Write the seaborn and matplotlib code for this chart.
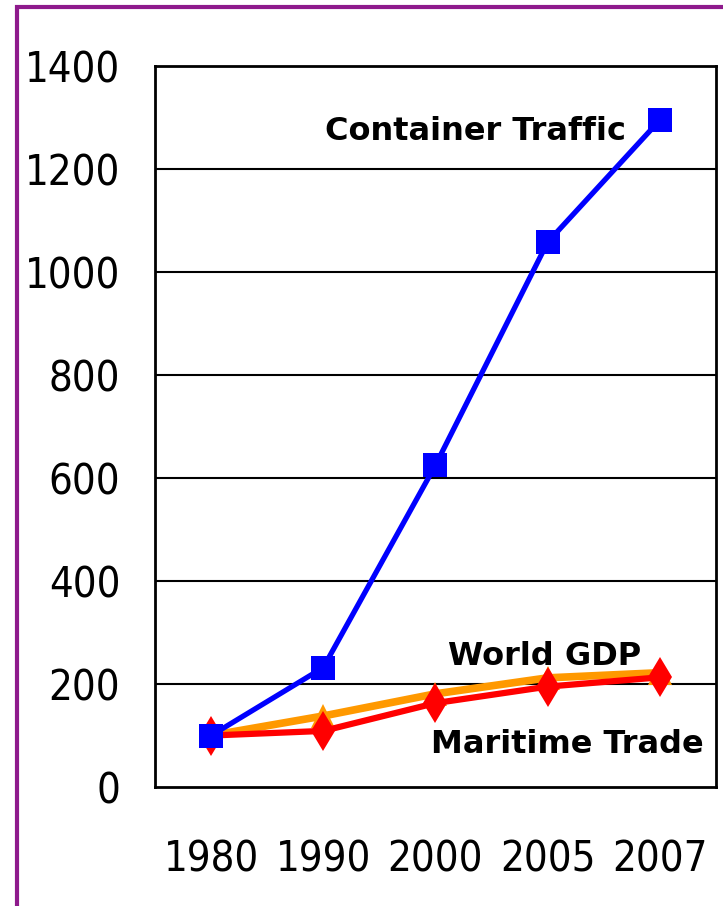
import numpy as np
import pandas as pd
import matplotlib
matplotlib.use("Agg")
import matplotlib.pyplot as plt
from matplotlib.patches import Rectangle
import seaborn as sns

# data (1980 = 100)
years = ["1980", "1990", "2000", "2005", "2007"]
container_traffic = [100, 232, 625, 1058, 1295]
world_gdp = [100, 138, 181, 212, 222]
maritime_trade = [100, 109, 163, 195, 213]
y_ticks = [0, 200, 400, 600, 800, 1000, 1200, 1400]

sns.set_theme(style="white")
plt.rcParams['font.family'] = ['DejaVu Sans']
plt.rcParams['font.stretch'] = 'condensed'

df = pd.DataFrame({
    "year": years * 3,
    "value": container_traffic + world_gdp + maritime_trade,
    "series": ["Container Traffic"] * 5 + ["World GDP"] * 5 + ["Maritime Trade"] * 5,
})

fig = plt.figure(figsize=(7.23, 9.06), dpi=100)
ax = fig.add_axes([0.2144, 0.1313, 0.7759, 0.7959])

# purple frame round the slide
fig.patches.append(Rectangle((0.0235, -0.05), 1.2, 1.0425, transform=fig.transFigure,
                             fill=False, edgecolor="#8E1A8C", linewidth=3, zorder=0))

styles = {
    "World GDP": dict(color="#FF9900", marker="^", markersize=17, linewidth=5.5, zorder=2),
    "Maritime Trade": dict(color="#FF0000", marker="d", markersize=20, linewidth=4.5, zorder=3),
    "Container Traffic": dict(color="#0000FF", marker="s", markersize=17, linewidth=3.8, zorder=4),
}
for name, st in styles.items():
    sub = df[df["series"] == name]
    sns.lineplot(data=sub, x="year", y="value", ax=ax, color=st["color"], marker=st["marker"],
                 markersize=st["markersize"], linewidth=st["linewidth"], markeredgewidth=0,
                 zorder=st["zorder"], legend=False, sort=False)

ax.set_xlim(-0.5, 4.5)
ax.set_ylim(0, 1400)
ax.set_yticks(y_ticks)
ax.set_yticklabels([str(v) for v in y_ticks], fontsize=30, color="black", va="center_baseline")
ax.set_xticks(range(len(years)))
ax.set_xticklabels(years, fontsize=30, color="black")
ax.tick_params(axis="y", length=0, pad=25)
ax.tick_params(axis="x", which="major", length=0, pad=37)
ax.set_xticks(np.arange(0.5, len(years) - 0.5, 1.0), minor=True)
ax.tick_params(axis="x", which="minor", direction="in", length=15, width=1.5, color="black")
ax.set_xlabel("")
ax.set_ylabel("")

for v in y_ticks[1:-1]:
    ax.axhline(v, color="black", linewidth=1.5, zorder=1)
for s in ax.spines.values():
    s.set_color("black")
    s.set_linewidth(2)

lbl = dict(fontsize=23, fontweight="bold", family="DejaVu Sans", fontstretch="normal",
           ha="right", va="center", color="black")
ax.text(3.70, 1272, "Container Traffic", **lbl)
ax.text(3.83, 254, "World GDP", **lbl)
ax.text(4.39, 82, "Maritime Trade", **lbl)

fig.savefig("out.png", dpi=100)
